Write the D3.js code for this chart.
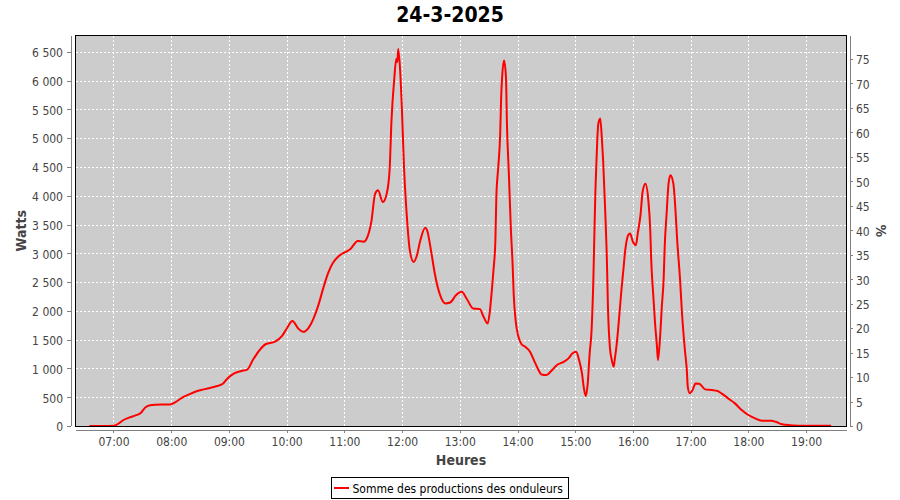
<!DOCTYPE html>
<html>
<head>
<meta charset="utf-8">
<script src="https://cdn.jsdelivr.net/npm/d3@7"></script>
<style>
  html, body { margin: 0; padding: 0; background: #fff; }
  svg { display: block; }
  text { font-family: "DejaVu Sans Condensed", "DejaVu Sans", sans-serif; font-stretch: condensed; }
</style>
</head>
<body>
<svg id="chart" width="900" height="500"></svg>
<script>
const title = "24-3-2025";
const seriesName = "Somme des productions des onduleurs";
const xLabel = "Heures";
const yLabel = "Watts";
const y2Label = "%";

const times = [
  "06:35","06:50","07:00","07:03","07:06","07:10","07:16","07:23","07:28","07:33",
  "07:38","07:43","07:59","08:04","08:11","08:18","08:25","08:35","08:46","08:54",
  "08:59","09:05","09:13","09:19","09:25","09:32","09:38","09:48","09:55","10:00",
  "10:06","10:12","10:17","10:23","10:28","10:33","10:38","10:43","10:48","10:54",
  "11:02","11:06","11:14","11:20","11:24","11:28","11:32","11:35","11:40","11:44",
  "11:47","11:49","11:52","11:54","11:55","11:56","11:58","12:00","12:02","12:05",
  "12:08","12:12","12:15","12:19","12:24","12:26","12:30","12:34","12:39","12:45",
  "12:50","12:56","13:02","13:07","13:14","13:21","13:24","13:29","13:31","13:33",
  "13:35","13:37","13:38","13:40","13:42","13:43","13:44","13:46","13:48","13:49",
  "13:51","13:53","13:55","13:56","13:58","14:01","14:04","14:08","14:13","14:17",
  "14:21","14:25","14:30","14:35","14:41","14:48","14:53","14:57","15:01","15:04",
  "15:07","15:09","15:11","15:13","15:15","15:17","15:19","15:20","15:21","15:22",
  "15:23","15:24","15:26","15:28","15:29","15:31","15:33","15:34","15:36","15:38",
  "15:40","15:41","15:43","15:46","15:48","15:50","15:52","15:55","15:57","16:00",
  "16:03","16:05","16:08","16:10","16:13","16:16","16:18","16:19","16:21","16:23",
  "16:25","16:26","16:28","16:30","16:32","16:33","16:35","16:37","16:39","16:42",
  "16:44","16:46","16:49","16:51","16:54","16:56","16:57","16:59","17:02","17:05",
  "17:09","17:15","17:22","17:28","17:32","17:39","17:46","17:53","18:00","18:07",
  "18:14","18:24","18:29","18:34","18:43","19:00","19:26"
];
const watts = [
  0,0,5,20,50,100,145,185,220,320,
  360,370,375,410,490,545,595,640,685,740,
  835,910,955,980,1150,1320,1420,1465,1560,1690,
  1825,1695,1635,1710,1870,2100,2390,2650,2830,2950,
  3030,3070,3215,3200,3285,3545,4035,4095,3890,4035,
  4440,5310,6060,6380,6320,6550,6175,5425,4500,3630,
  3055,2850,2940,3225,3445,3400,3055,2650,2300,2130,
  2145,2270,2330,2215,2040,2030,1925,1780,1955,2300,
  2705,3225,3980,4500,5080,5710,6060,6350,6060,5250,
  4385,3460,2765,2300,1840,1550,1425,1375,1290,1145,
  1000,895,885,955,1060,1115,1175,1260,1290,1145,
  915,655,520,740,1260,1665,2650,3400,4100,4560,
  5000,5250,5340,4900,4615,3805,2820,2070,1375,1145,
  1030,1145,1405,1955,2360,2705,3055,3315,3345,3200,
  3140,3345,3690,4065,4210,3920,3400,2880,2300,1780,
  1375,1145,1490,2070,2590,3110,3690,4210,4355,4210,
  3805,3225,2535,1955,1320,970,680,570,625,740,
  735,636,625,607,567,480,393,278,191,133,
  93,93,69,35,15,5,5
];

const xTickLabels = ["07:00","08:00","09:00","10:00","11:00","12:00","13:00","14:00","15:00","16:00","17:00","18:00","19:00"];
const yTicks = [0,500,1000,1500,2000,2500,3000,3500,4000,4500,5000,5500,6000,6500];
const yTickLabels = ["0","500","1 000","1 500","2 000","2 500","3 000","3 500","4 000","4 500","5 000","5 500","6 000","6 500"];
const y2Ticks = [0,5,10,15,20,25,30,35,40,45,50,55,60,65,70,75];
const xDomain = ["06:20:30","19:42"];
const yMax = 6783;
const peakPower = 8500;

const toMin = s => { const p = s.split(":").map(Number); return p[0]*60 + p[1] + (p[2]||0)/60; };
const data = times.map((t,i) => ({ t: toMin(t), v: watts[i] }));

const L = 75.5, R = 846.5, T = 35.5, B = 426;
const svg = d3.select("#chart");
svg.append("rect").attr("width",900).attr("height",500).attr("fill","#fff");

const x = d3.scaleLinear().domain(xDomain.map(toMin)).range([L, R]);
const y = d3.scaleLinear().domain([0, yMax]).range([B, T]);
const y2 = d3.scaleLinear().domain([0, yMax/peakPower*100]).range([B, T]);

// plot background
svg.append("rect").attr("x",L).attr("y",T).attr("width",R-L).attr("height",B-T).attr("fill","#cccccc");

// grid
const grid = svg.append("g").attr("stroke","#ffffff").attr("stroke-width",1).attr("stroke-dasharray","2,2").attr("shape-rendering","crispEdges");
grid.selectAll("line.v").data(xTickLabels).enter().append("line")
  .attr("x1",d=>Math.round(x(toMin(d)))+0.5).attr("x2",d=>Math.round(x(toMin(d)))+0.5)
  .attr("y1",T).attr("y2",B);
grid.selectAll("line.h").data(yTicks.filter(v=>v>0)).enter().append("line")
  .attr("y1",d=>Math.round(y(d))+0.5).attr("y2",d=>Math.round(y(d))+0.5)
  .attr("x1",L).attr("x2",R);

// clip
svg.append("clipPath").attr("id","clip").append("rect").attr("x",L).attr("y",T).attr("width",R-L).attr("height",B-T+1);

// line
const line = d3.line().x(d=>x(d.t)).y(d=>y(d.v)).curve(d3.curveMonotoneX);
svg.append("path").datum(data).attr("d",line).attr("fill","none")
  .attr("stroke","#ff0000").attr("stroke-width",2).attr("clip-path","url(#clip)")
  .attr("stroke-linejoin","round");

// plot outline
svg.append("rect").attr("x",L).attr("y",T).attr("width",R-L).attr("height",B-T)
  .attr("fill","none").attr("stroke","#000").attr("stroke-width",1).attr("shape-rendering","crispEdges");

const tickColor = "#444444", axisColor = "#808080";

// bottom axis
const xAxis = d3.axisBottom(x).tickValues(xTickLabels.map(toMin))
  .tickFormat((d,i)=>xTickLabels[i]).tickSize(3).tickPadding(4);
const gx = svg.append("g").attr("transform",`translate(0,430)`).call(xAxis);
gx.select(".domain").attr("d",`M${L},0.5H${R}`).attr("stroke",axisColor);
gx.selectAll(".tick line").attr("stroke",axisColor);
gx.selectAll(".tick text").attr("fill",tickColor).style("font-size","12px").attr("dy","0.71em");

// left axis
const yAxis = d3.axisLeft(y).tickValues(yTicks).tickFormat((d,i)=>yTickLabels[i]).tickSize(4).tickPadding(4);
const gy = svg.append("g").attr("transform",`translate(71,0)`).call(yAxis);
gy.select(".domain").attr("d",`M0.5,${T}V${B}`).attr("stroke",axisColor);
gy.selectAll(".tick line").attr("stroke",axisColor);
gy.selectAll(".tick text").attr("fill",tickColor).style("font-size","12px").attr("dy","0.4em");

// right axis
const y2Axis = d3.axisRight(y2).tickValues(y2Ticks).tickFormat(d3.format("d")).tickSize(3).tickPadding(3);
const gy2 = svg.append("g").attr("transform",`translate(850,0)`).call(y2Axis);
gy2.select(".domain").attr("d",`M0.5,${T}V${B}`).attr("stroke",axisColor);
gy2.selectAll(".tick line").attr("stroke",axisColor);
gy2.selectAll(".tick text").attr("fill",tickColor).style("font-size","12px").attr("dy","0.4em");

svg.selectAll(".domain, .tick line").attr("shape-rendering","crispEdges");

// title
svg.append("text").attr("x",450).attr("y",22).attr("text-anchor","middle")
  .style("font-size","21px").style("font-weight","bold").attr("fill","#000").text(title);

// axis labels
svg.append("text").attr("x",(L+R)/2).attr("y",465).attr("text-anchor","middle")
  .style("font-size","14px").style("font-weight","bold").attr("fill",tickColor).text(xLabel);
svg.append("text").attr("transform",`translate(26,${(T+B)/2}) rotate(-90)`).attr("text-anchor","middle")
  .style("font-size","14px").style("font-weight","bold").attr("fill",tickColor).text(yLabel);
svg.append("text").attr("transform",`translate(876,${(T+B)/2}) rotate(90)`).attr("text-anchor","middle")
  .style("font-size","14px").style("font-weight","bold").attr("fill",tickColor).text(y2Label);

// legend
const lg = svg.append("g");
lg.append("rect").attr("x",331.5).attr("y",477.5).attr("width",237).attr("height",20.5)
  .attr("fill","#fff").attr("stroke","#000").attr("shape-rendering","crispEdges");
lg.append("line").attr("x1",334).attr("x2",349).attr("y1",488).attr("y2",488)
  .attr("stroke","#ff0000").attr("stroke-width",2);
lg.append("text").attr("x",352.5).attr("y",492.5).style("font-size","12px").attr("fill","#000").text(seriesName);
</script>
</body>
</html>
